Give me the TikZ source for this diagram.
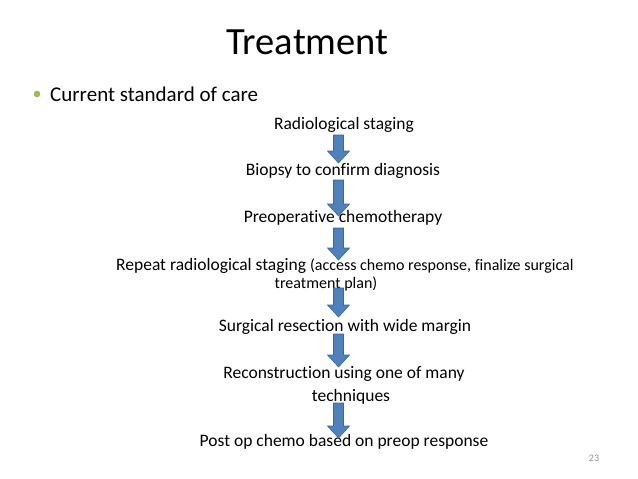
\documentclass[tikz,border=0pt]{standalone}
\usepackage{fontspec}
\setmainfont{Carlito}[Ligatures=NoCommon]
\usetikzlibrary{calc}
\definecolor{arrowfill}{HTML}{4F81BD}
\definecolor{arrowline}{HTML}{3A679E}
\definecolor{bulletgreen}{HTML}{9BBB59}
\definecolor{pagenum}{HTML}{8C8C8C}
\tikzset{
  txt/.style={inner sep=0pt, anchor=base, font=\fontsize{17.5}{20}\selectfont},
  small/.style={inner sep=0pt, anchor=base, font=\fontsize{16}{19}\selectfont},
  barrow/.style={fill=arrowfill, draw=arrowline, line width=0.6pt, line join=miter}
}
\newcommand\blockarrow[2]{%
  \path[barrow] let \p1=(#1), \p2=(#2) in
    (\x1-5pt,\y1) -- (\x1+5pt,\y1) -- (\x1+5pt,\y2+12pt) -- (\x1+11pt,\y2+12pt)
    -- (\x1,\y2) -- (\x1-11pt,\y2+12pt) -- (\x1-5pt,\y2+12pt) -- cycle;}
\begin{document}
\begin{tikzpicture}[x=1pt,y=-1pt]
\useasboundingbox (0,0) rectangle (638,479);
\node[inner sep=0pt, anchor=base, font=\fontsize{38.5}{44}\selectfont] (title) at (307.5,54) {Treatment};
\fill[bulletgreen] (37,94) circle (3.3);
\node[inner sep=0pt, anchor=base west, font=\fontsize{21}{25}\selectfont] (cur) at (50,101) {Current standard of care};
\node[txt] (s1) at (344,129) {Radiological staging};
\node[txt] (s2) at (343,175) {Biopsy to confirm diagnosis};
\node[txt] (s3) at (343,222) {Preoperative chemotherapy};
\node[inner sep=0pt, anchor=base west] (s4) at (116,270) {\fontsize{17.5}{20}\selectfont Repeat radiological staging \fontsize{16}{19}\selectfont(access chemo response, finalize surgical};
\node[small] (s4b) at (326,288) {treatment plan)};
\node[txt] (s5) at (345,331) {Surgical resection with wide margin};
\node[txt] (s6) at (344,378) {Reconstruction using one of many};
\node[txt] (s6b) at (351,401) {techniques};
\node[txt] (s7) at (344,446) {Post op chemo based on preop response};
\node[inner sep=0pt, anchor=base, font=\fontsize{10}{12}\selectfont, text=pagenum] (pg) at (594,461) {23};
\coordinate (a1s) at (338.5,135); \coordinate (a1e) at (338.5,163);
\coordinate (a2s) at (338.5,180); \coordinate (a2e) at (338.5,216);
\coordinate (a3s) at (338.5,228); \coordinate (a3e) at (338.5,260);
\coordinate (a4s) at (338.5,288); \coordinate (a4e) at (338.5,317);
\coordinate (a5s) at (338.5,334); \coordinate (a5e) at (338.5,367);
\coordinate (a6s) at (338.5,403); \coordinate (a6e) at (338.5,438);
\blockarrow{a1s}{a1e}
\blockarrow{a2s}{a2e}
\blockarrow{a3s}{a3e}
\blockarrow{a4s}{a4e}
\blockarrow{a5s}{a5e}
\blockarrow{a6s}{a6e}
\end{tikzpicture}
\end{document}
